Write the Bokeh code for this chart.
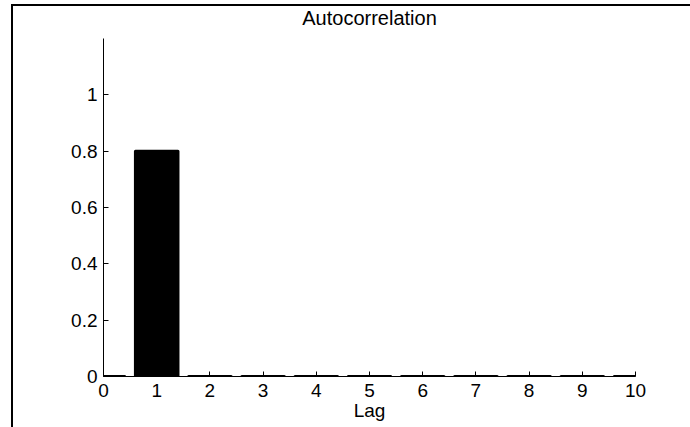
from bokeh.plotting import figure
from bokeh.models import (Range1d, FixedTicker, ColumnDataSource, LinearAxis,
                          GlobalInlineStyleSheet, InlineStyleSheet)
from bokeh.embed import file_html
from bokeh.resources import INLINE

# ---- data ----
lags = [0, 1, 2, 3, 4, 5, 6, 7, 8, 9, 10]
acf = [0.0, 0.8, 0.0, 0.0, 0.0, 0.0, 0.0, 0.0, 0.0, 0.0, 0.0]
x_ticks = [0, 1, 2, 3, 4, 5, 6, 7, 8, 9, 10]
y_ticks = [0, 0.2, 0.4, 0.6, 0.8, 1]
y_tick_labels = ["0", "0.2", "0.4", "0.6", "0.8", "1"]
title_text = "Autocorrelation"
x_label = "Lag"

FONT = "Liberation Sans"
FS = "19px"

src = ColumnDataSource(dict(lag=lags, acf=acf))

p = figure(width=690, height=427,
           x_range=Range1d(0, 10), y_range=Range1d(0, 1.2),
           output_backend="svg", toolbar_location=None,
           min_border_left=103, min_border_right=55,
           min_border_top=38, min_border_bottom=51)

# outer frame lines (left and top) painted behind a transparent canvas border
p.styles = {"background": "linear-gradient(#000, #000) 11px 4px / 2px calc(100% - 4px) no-repeat, "
                          "linear-gradient(#000, #000) 11px 4px / calc(100% - 11px) 2px no-repeat, #fff"}
p.stylesheets = [
    GlobalInlineStyleSheet(css="html, body { overflow: hidden !important; margin: 0; } "
                               "::-webkit-scrollbar { display: none; width: 0; height: 0; }"),
    InlineStyleSheet(css="::-webkit-scrollbar { display: none; width: 0; height: 0; }"),
]
p.border_fill_color = None
p.background_fill_color = "white"

p.vbar(x="lag", top="acf", bottom=0, width=0.8, source=src,
       fill_color="black", line_color="black", line_width=3, line_join="round")

p.xgrid.visible = False
p.ygrid.visible = False
p.outline_line_color = None

for ax in (p.xaxis[0], p.yaxis[0]):
    ax.axis_line_color = "black"
    ax.axis_line_width = 1
    ax.major_tick_line_color = "black"
    ax.major_tick_in = 5
    ax.major_tick_out = 0
    ax.minor_tick_line_color = None
    ax.major_label_text_font = FONT
    ax.major_label_text_font_size = FS
    ax.major_label_text_color = "black"

p.xaxis[0].ticker = FixedTicker(ticks=x_ticks)
p.yaxis[0].ticker = FixedTicker(ticks=y_ticks)
p.yaxis[0].major_label_overrides = {t: l for t, l in zip(y_ticks, y_tick_labels)}
p.xaxis[0].major_label_standoff = 7
p.yaxis[0].major_label_standoff = 6

p.xaxis[0].axis_label = x_label
p.xaxis[0].axis_label_text_font = FONT
p.xaxis[0].axis_label_text_font_size = FS
p.xaxis[0].axis_label_text_font_style = "normal"
p.xaxis[0].axis_label_text_color = "black"
p.xaxis[0].axis_label_standoff = 0

# title drawn as the label of a bare axis above the plotting area
tax = LinearAxis(ticker=FixedTicker(ticks=[]), axis_label=title_text,
                 axis_line_color=None, major_tick_line_color=None,
                 minor_tick_line_color=None, major_tick_in=0, major_tick_out=0,
                 minor_tick_in=0, minor_tick_out=0, major_label_standoff=0,
                 axis_label_standoff=10, axis_label_text_font=FONT,
                 axis_label_text_font_size="20px", axis_label_text_font_style="normal",
                 axis_label_text_color="black")
p.add_layout(tax, "above")

open("out.html", "w").write(file_html(p, INLINE))
